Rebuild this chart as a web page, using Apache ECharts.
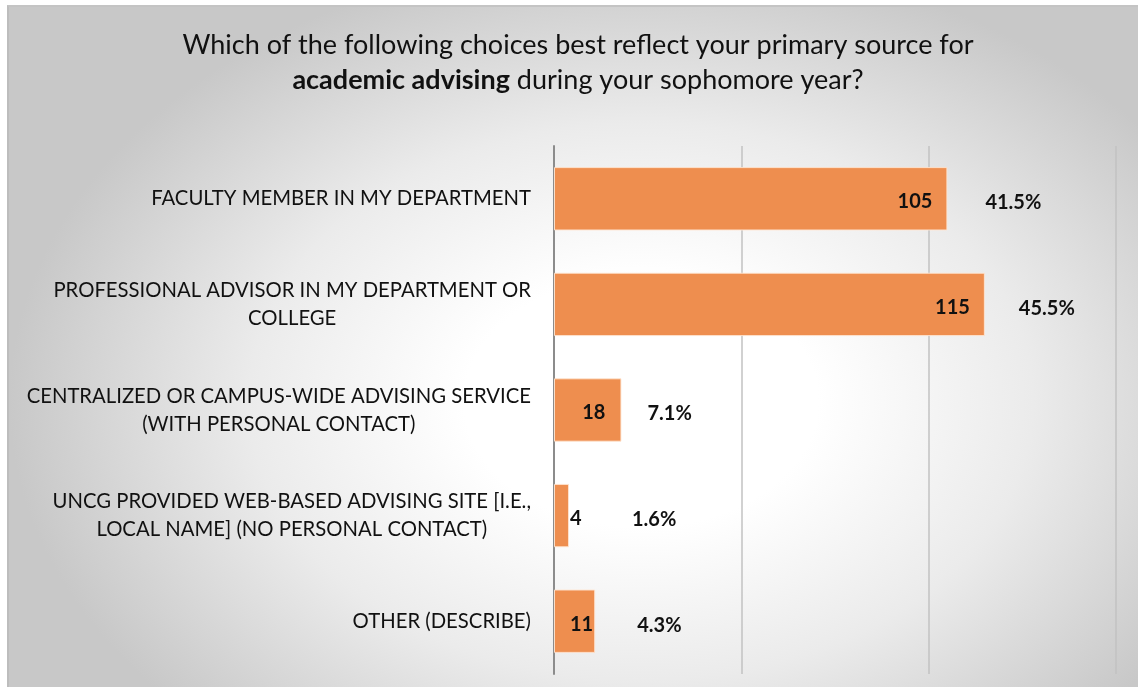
<!DOCTYPE html>
<html>
<head>
<meta charset="utf-8">
<title>Primary source for academic advising</title>
<script src="https://cdn.jsdelivr.net/npm/echarts@6/dist/echarts.min.js"></script>
<style>
  html, body { margin: 0; padding: 0; background: #ffffff; }
  #panel {
    position: absolute; left: 7px; top: 5px; width: 1131px; height: 682px;
    box-sizing: border-box;
    border-left: 2px solid #bdbdbd; border-top: 2px solid #c4c4c4;
    background: radial-gradient(ellipse 56% 66% at 56% 58%, #ffffff 0%, #ffffff 28%, #ebebeb 62%, #c8c8c8 100%);
  }
  #chart { position: absolute; left: 0; top: 0; width: 1138px; height: 687px; }
</style>
</head>
<body>
<div id="panel"></div>
<div id="chart"></div>
<script>
// Survey answers, top to bottom
const categories = [
  'FACULTY MEMBER IN MY DEPARTMENT',
  'PROFESSIONAL ADVISOR IN MY DEPARTMENT OR\nCOLLEGE',
  'CENTRALIZED OR CAMPUS-WIDE ADVISING SERVICE\n(WITH PERSONAL CONTACT)',
  'UNCG PROVIDED WEB-BASED ADVISING SITE [I.E.,\nLOCAL NAME] (NO PERSONAL CONTACT)',
  'OTHER (DESCRIBE)'
];
const counts = [105, 115, 18, 4, 11];
const percents = [41.5, 45.5, 7.1, 1.6, 4.3];
const axisTicks = [0, 50, 100, 150];

// Label placement for each bar (count label / percent label gap)
const countLabelPlacement = [
  { position: 'insideRight', distance: 15 },
  { position: 'insideRight', distance: 15 },
  { position: 'insideRight', distance: 16 },
  { position: 'right', distance: 1 },
  { position: 'insideRight', distance: 2 }
];
const percentGap = [38, 34, 26, 63, 42];

const FONT = 'Lato, "Open Sans", sans-serif';
const BAR = '#EE8E4F';

const chart = echarts.init(document.getElementById('chart'), null, { renderer: 'canvas' });

chart.setOption({
  backgroundColor: 'transparent',
  animation: false,
  graphic: [{
    type: 'text',
    x: 578, y: 63,
    style: {
      text: '{n|Which of the following choices best reflect your primary source for}\n{b|academic advising}{n| during your sophomore year?}',
      align: 'center', verticalAlign: 'middle',
      fill: '#111',
      rich: {
        n: { fontFamily: FONT, fontSize: 27, lineHeight: 35, fill: '#111' },
        b: { fontFamily: FONT, fontSize: 27, lineHeight: 35, fontWeight: 'bold', fill: '#111' }
      }
    }
  }],
  grid: { left: 554, right: 22, top: 146, bottom: 13, containLabel: false },
  xAxis: {
    type: 'value',
    min: axisTicks[0],
    max: axisTicks[axisTicks.length - 1],
    interval: axisTicks[1] - axisTicks[0],
    axisLabel: { show: false },
    axisTick: { show: false },
    axisLine: { show: false },
    splitLine: { show: true, lineStyle: { color: '#c2c2c2', width: 1.5 } }
  },
  yAxis: {
    type: 'category',
    inverse: true,
    data: categories,
    axisTick: { show: false },
    axisLine: { show: true, lineStyle: { color: '#8c8c8c', width: 2 } },
    axisLabel: {
      margin: 23,
      align: 'right',
      formatter: v => v.split('\n').map(s => '{c|' + s + '}').join('\n'),
      rich: {
        c: { align: 'center', fontFamily: FONT, fontSize: 20.3, lineHeight: 28, color: '#111' }
      }
    }
  },
  series: [
    {
      type: 'bar',
      barCategoryGap: '40%',
      data: counts.map((v, i) => ({
        value: v,
        label: Object.assign({}, countLabelPlacement[i])
      })),
      itemStyle: { color: BAR, borderColor: 'rgba(255,230,210,0.9)', borderWidth: 1 },
      label: {
        show: true,
        offset: [0, 3],
        fontFamily: FONT, fontSize: 20, fontWeight: 'bold', color: '#111'
      },
      z: 2
    },
    {
      type: 'bar',
      barGap: '-100%',
      barCategoryGap: '40%',
      silent: true,
      data: counts.map((v, i) => ({
        value: v,
        label: { distance: percentGap[i] }
      })),
      itemStyle: { color: 'rgba(0,0,0,0)' },
      label: {
        show: true,
        position: 'right',
        offset: [0, 4],
        formatter: p => percents[p.dataIndex].toFixed(1) + '%',
        fontFamily: FONT, fontSize: 20, fontWeight: 'bold', color: '#111'
      },
      z: 3
    }
  ]
});
</script>
</body>
</html>
